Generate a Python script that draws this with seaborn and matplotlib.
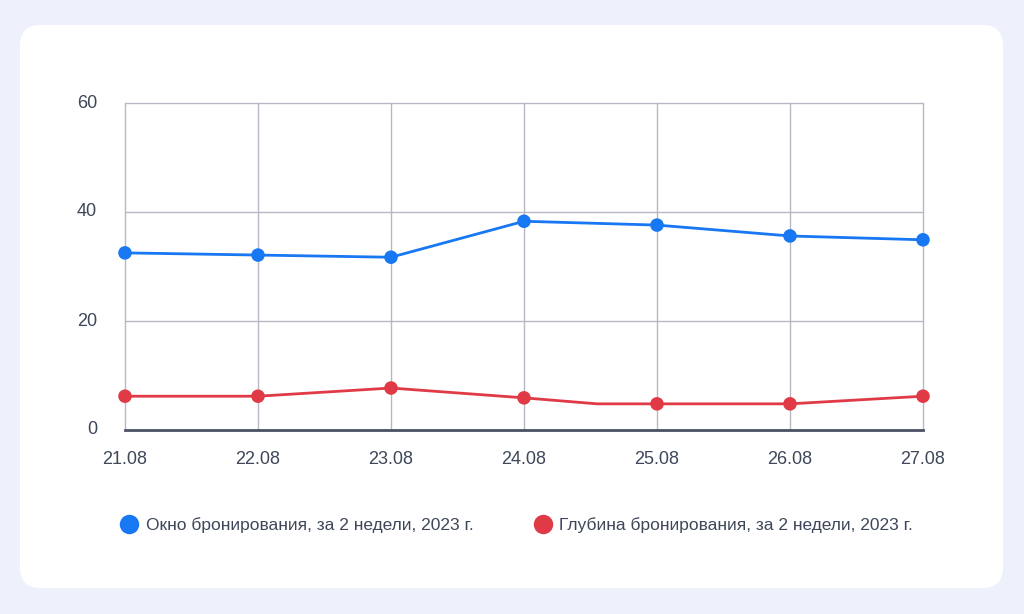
import matplotlib
matplotlib.use("Agg")
import matplotlib.pyplot as plt
from matplotlib.patches import FancyBboxPatch
from matplotlib.lines import Line2D
import seaborn as sns
import pandas as pd

# ---- data ----
dates = ["21.08", "22.08", "23.08", "24.08", "25.08", "26.08", "27.08"]
okno = [32.5, 32.1, 31.7, 38.3, 37.6, 35.6, 34.9]
glubina = [6.2, 6.2, 7.7, 5.9, 4.8, 4.8, 6.2]
# red line path has an extra bend between 24.08 and 25.08
glubina_path_x = [0, 1, 2, 3, 3.55, 4, 5, 6]
glubina_path_y = [6.2, 6.2, 7.7, 5.9, 4.8, 4.8, 4.8, 6.2]
series_names = ["Окно бронирования, за 2 недели, 2023 г.",
                "Глубина бронирования, за 2 недели, 2023 г."]
yticks = [0, 20, 40, 60]

BLUE = "#1877F2"
RED = "#E03A47"
TXT = "#3D4759"
GRID = "#B8B8C2"
BG = "#EEF1FC"

sns.set_theme(style="white")
plt.rcParams["font.family"] = ["Liberation Sans", "DejaVu Sans"]

fig = plt.figure(figsize=(10.24, 6.14), dpi=100)
fig.patch.set_facecolor(BG)
card = FancyBboxPatch((20 / 1024, 1 - 588 / 614), (1003 - 20) / 1024, (588 - 25) / 614,
                      boxstyle="round,pad=0,rounding_size=0.02",
                      transform=fig.transFigure, facecolor="white", edgecolor="none",
                      mutation_aspect=1024 / 614, zorder=-10)
fig.patches.append(card)

ax = fig.add_axes([125 / 1024, 1 - 430 / 614, (923 - 125) / 1024, (430 - 103) / 614])
ax.set_zorder(2)
ax.set_facecolor("white")

idx = list(range(len(dates)))
df_blue = pd.DataFrame({"x": idx, "y": okno})
df_red_path = pd.DataFrame({"x": glubina_path_x, "y": glubina_path_y})
df_red = pd.DataFrame({"x": idx, "y": glubina})

sns.lineplot(data=df_blue, x="x", y="y", ax=ax, color=BLUE, linewidth=2.0, zorder=3)
sns.scatterplot(data=df_blue, x="x", y="y", ax=ax, color=BLUE, s=95, edgecolor="none", zorder=4, clip_on=False)
sns.lineplot(data=df_red_path, x="x", y="y", ax=ax, color=RED, linewidth=2.0, zorder=3)
sns.scatterplot(data=df_red, x="x", y="y", ax=ax, color=RED, s=95, edgecolor="none", zorder=4, clip_on=False)

ax.set_xlim(0, 6)
ax.set_ylim(0, 60)
ax.set_xticks(idx)
ax.set_xticklabels(dates)
ax.set_yticks(yticks)
ax.set_xlabel("")
ax.set_ylabel("")
ax.grid(True, color=GRID, linewidth=1.0)
ax.set_axisbelow(True)
for gl in ax.get_xgridlines() + ax.get_ygridlines():
    gl.set_clip_on(False)
for s in ["left", "right", "top"]:
    ax.spines[s].set_visible(False)
ax.spines["bottom"].set_color("#4A5263")
ax.spines["bottom"].set_linewidth(2.0)
ax.spines["bottom"].set_zorder(5)
ax.tick_params(axis="both", length=0, labelsize=13, labelcolor=TXT)
ax.tick_params(axis="y", pad=20)
ax.tick_params(axis="x", pad=15)
for lab in ax.get_yticklabels():
    lab.set_verticalalignment("center")

handles = [Line2D([], [], marker="o", linestyle="none", markersize=14,
                  markerfacecolor=c, markeredgecolor="none") for c in (BLUE, RED)]
fig.legend(handles, series_names, loc="center", bbox_to_anchor=(516 / 1024, 1 - 525 / 614),
           ncol=2, frameon=False, fontsize=12.5, labelcolor=TXT,
           handletextpad=0.35, columnspacing=3.4, handlelength=1.2)

fig.savefig("out.png", dpi=100, facecolor=BG)
